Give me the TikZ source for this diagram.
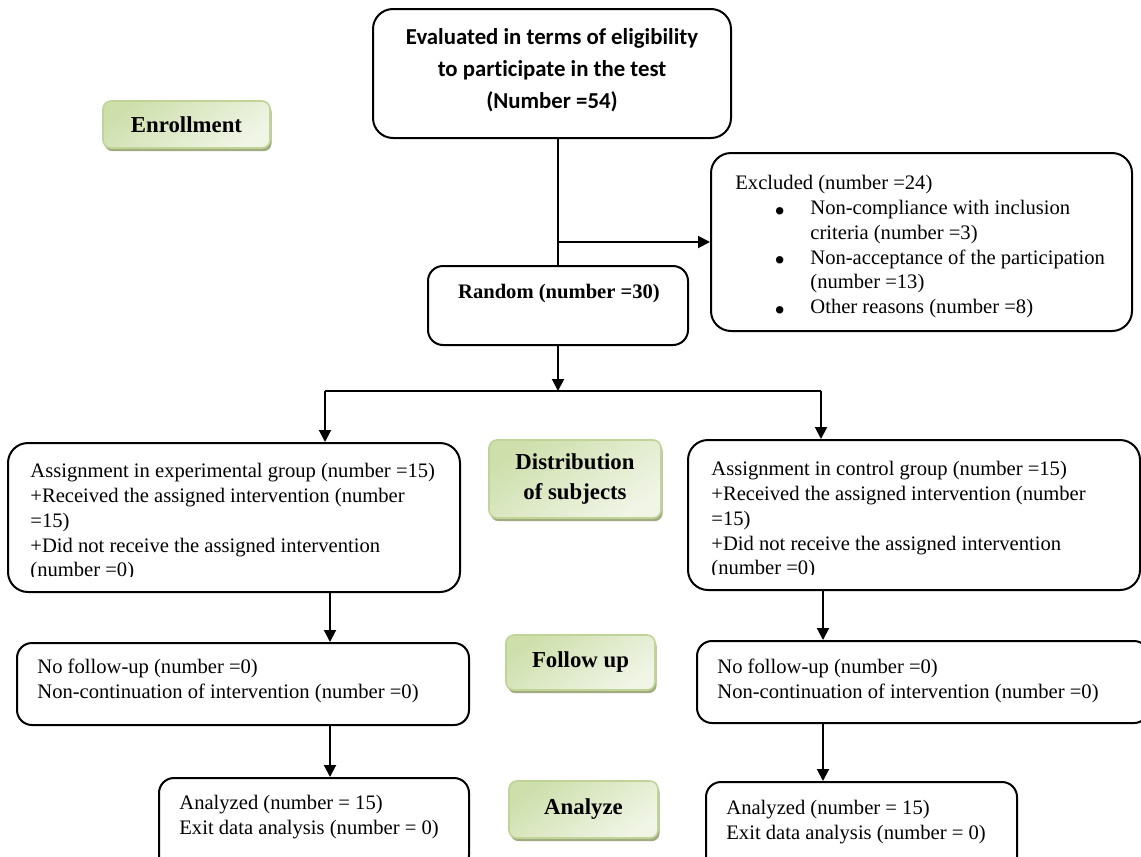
\documentclass[tikz,border=0pt]{standalone}
\usepackage{fontspec}
\usepackage{graphicx}
\setmainfont{Liberation Serif}
\newfontfamily\calib[Ligatures=NoCommon]{Carlito}
\usetikzlibrary{arrows.meta,shadows,calc}
\definecolor{gborder}{RGB}{192,212,152}
\definecolor{gdark}{RGB}{206,223,172}
\definecolor{glight}{RGB}{240,245,230}
\definecolor{gshadow}{RGB}{160,172,128}
\newcommand{\bigbul}{\raisebox{-3.4pt}{\scalebox{1.5}{\textbullet}}}
\begin{document}
\begin{tikzpicture}[x=0.5pt,y=-0.5pt,
  roundbox/.style={draw, line width=1pt, rounded corners=7.5pt, inner sep=0pt},
  greenbox/.style={draw=gborder, line width=0.8pt, rounded corners=4pt, inner sep=0pt,
    top color=gdark, bottom color=glight, shading angle=35,
    drop shadow={shadow xshift=0.8pt, shadow yshift=-1.6pt, fill=gshadow, opacity=1},
    font=\bfseries\fontsize{11.4}{15}\selectfont, align=center},
  txt/.style={inner sep=0pt, align=left, anchor=north west, font=\fontsize{10.3}{12.4}\selectfont},
  arr/.style={line width=1pt, -{Triangle[length=6pt,width=6pt]}},
  conn/.style={line width=1pt}]
\clip (0,0) rectangle (1141,857);
\fill[white] (0,0) rectangle (1141,857);

% boxes
\node[roundbox, rounded corners=10pt, minimum width=179pt, minimum height=64.5pt] (top) at (552,73.5) {};
\node[roundbox, rounded corners=10pt, minimum width=210.5pt, minimum height=89pt] (excl) at (921.5,242) {};
\node[roundbox, minimum width=130pt, minimum height=39.5pt] (random) at (558,305.5) {};
\node[roundbox, rounded corners=10pt, minimum width=226pt, minimum height=74.5pt] (assignL) at (234,517.5) {};
\node[roundbox, rounded corners=10pt, minimum width=226pt, minimum height=75pt] (assignR) at (914,515) {};
\node[roundbox, minimum width=226pt, minimum height=41pt] (followL) at (243,684) {};
\node[roundbox, minimum width=226pt, minimum height=41pt] (followR) at (923,682) {};
\node[roundbox, minimum width=155pt, minimum height=46pt] (analyzeL) at (314,824) {};
\node[roundbox, minimum width=155.5pt, minimum height=46pt] (analyzeR) at (861.5,828) {};

% green labels
\node[greenbox, minimum width=83.5pt, minimum height=23.5pt] (enroll) at (186.5,124.5) {Enrollment};
\node[greenbox, minimum width=86pt, minimum height=39pt] (distrib) at (575,479) {Distribution\\of subjects};
\node[greenbox, minimum width=74.5pt, minimum height=27.5pt] (follow) at (580.5,662.5) {Follow up};
\node[greenbox, minimum width=74.5pt, minimum height=28.5pt] (analyze) at (583.5,809.5) {Analyze};

% texts
\node[inner sep=0pt, align=center, font=\calib\bfseries\fontsize{11.4}{16}\selectfont] (toptext) at (552,70)
  {Evaluated in terms of eligibility\\to participate in the test\\(Number =54)};
\node[txt, anchor=north, font=\bfseries\fontsize{10.3}{12.4}\selectfont] (randtext) at (559,284) {Random (number =30)};
\node[txt] (excltext) at (735,175) {Excluded (number =24)\\
  \hspace*{19.5pt}\makebox[18pt][l]{\bigbul}Non-compliance with inclusion\\
  \hspace*{37.5pt}criteria (number =3)\\
  \hspace*{19.5pt}\makebox[18pt][l]{\bigbul}Non-acceptance of the participation\\
  \hspace*{37.5pt}(number =13)\\
  \hspace*{19.5pt}\makebox[18pt][l]{\bigbul}Other reasons (number =8)};
\begin{scope}
\clip (0,440) rectangle (470,576);
\node[txt] (assignLtext) at (30,463) {Assignment in experimental group (number =15)\\
  +Received the assigned intervention (number\\=15)\\
  +Did not receive the assigned intervention\\(number =0)};
\end{scope}
\begin{scope}
\clip (680,440) rectangle (1141,574);
\node[txt] (assignRtext) at (711,461) {Assignment in control group (number =15)\\
  +Received the assigned intervention (number\\=15)\\
  +Did not receive the assigned intervention\\(number =0)};
\end{scope}
\node[txt] (followLtext) at (37,659) {No follow-up (number =0)\\Non-continuation of intervention (number =0)};
\node[txt] (followRtext) at (717,659) {No follow-up (number =0)\\Non-continuation of intervention (number =0)};
\node[txt] (analyzeLtext) at (179,795) {Analyzed (number = 15)\\Exit data analysis (number = 0)};
\node[txt] (analyzeRtext) at (726,800) {Analyzed (number = 15)\\Exit data analysis (number = 0)};

% connectors
\coordinate (br) at (random.north |- excl.west);
\coordinate (split) at (558,391);
\coordinate (splitL) at (325,391);
\coordinate (splitR) at (821,391);
\coordinate (colL) at (330,0);
\coordinate (colR) at (823,0);
\draw[conn] (random.north |- top.south) -- (random.north);
\draw[arr] (br) -- (excl.west);
\draw[arr] (random.south) -- (split);
\draw[conn] (splitL) -- (splitR);
\draw[arr] (splitL) -- (splitL |- assignL.north);
\draw[arr] (splitR) -- (splitR |- assignR.north);
\draw[arr] (colL |- assignL.south) -- (colL |- followL.north);
\draw[arr] (colR |- assignR.south) -- (colR |- followR.north);
\draw[arr] (colL |- followL.south) -- (colL |- analyzeL.north);
\draw[arr] (colR |- followR.south) -- (colR |- analyzeR.north);
\end{tikzpicture}
\end{document}
